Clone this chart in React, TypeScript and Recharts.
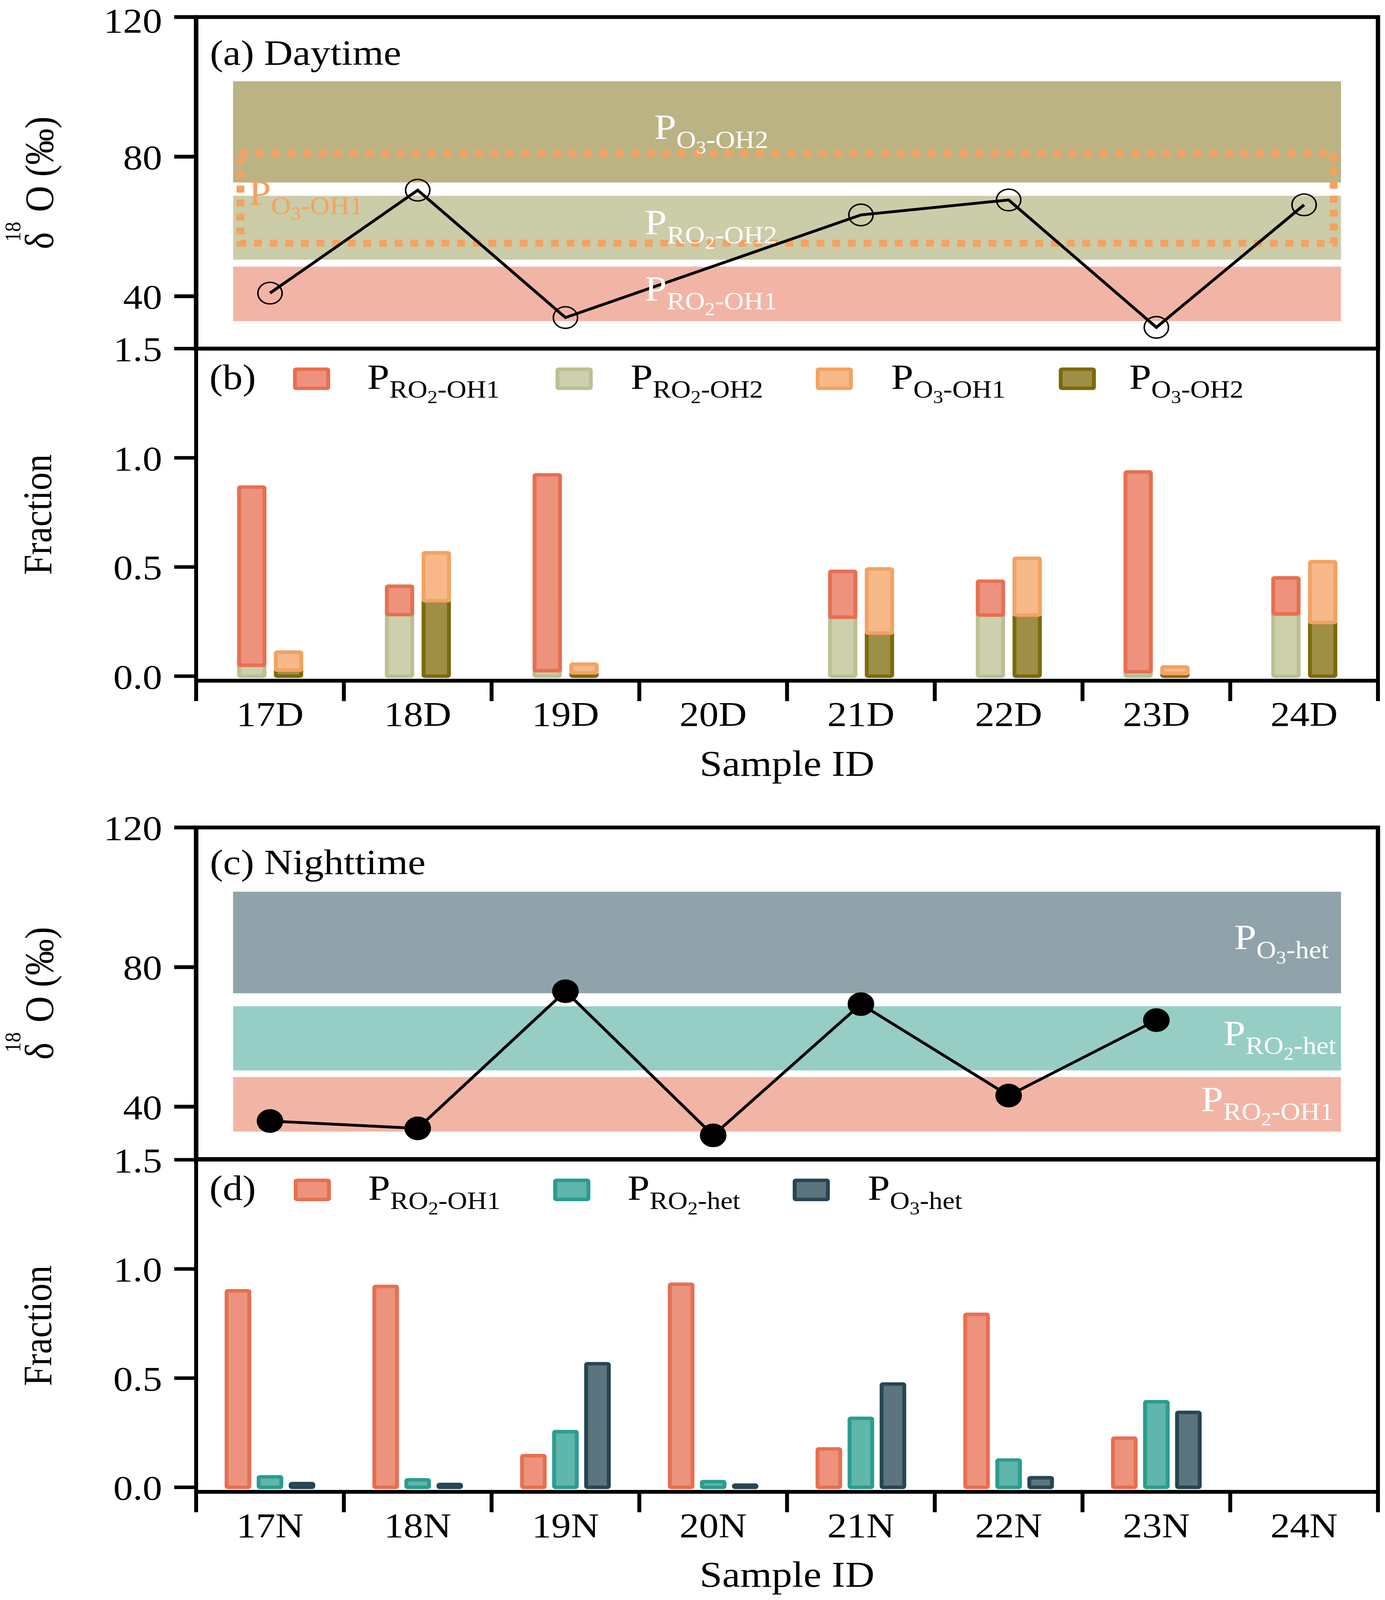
import React from "react";
import {
  ComposedChart,
  Bar,
  Line,
  XAxis,
  YAxis,
  ReferenceArea,
  ReferenceDot,
  Legend,
} from "recharts";

const FONT = '"Liberation Serif", "Times New Roman", Times, serif';
const W = 3545;
const H = 4594;
const PLOT_L = 502;
const PLOT_R = 3527;
const AXIS_W = 200;

// sample ids
const dayIds = ["17D", "18D", "19D", "20D", "21D", "22D", "23D", "24D"];
const nightIds = ["17N", "18N", "19N", "20N", "21N", "22N", "23N", "24N"];

// measured d18O (permil)
const dayDelta = [40.9, 70.4, 33.9, null, 63.3, 67.6, 31.1, 66.2];
const nightDelta = [35.9, 33.8, 73.1, 31.8, 69.4, 43.2, 64.8, null];

// end-member ranges (permil)
const rangeO3OH2 = [72.6, 101.6];
const rangeO3OH1 = [55.2, 81.0];
const rangeRO2OH2 = [50.5, 68.8];
const rangeRO2OH1 = [32.9, 48.5];
const rangeO3het = [72.5, 101.6];
const rangeRO2het = [50.4, 68.8];

// daytime fractions
const dayRO2OH1 = [0.816, 0.13, 0.897, null, 0.21, 0.155, 0.915, 0.165];
const dayRO2OH2 = [0.05, 0.282, 0.025, null, 0.27, 0.28, 0.02, 0.285];
const dayO3OH1 = [0.083, 0.22, 0.04, null, 0.294, 0.26, 0.03, 0.278];
const dayO3OH2 = [0.027, 0.345, 0.015, null, 0.197, 0.28, 0.012, 0.246];

// nighttime fractions
const nightRO2OH1 = [0.9, 0.92, 0.145, 0.93, 0.176, 0.792, 0.225, null];
const nightRO2het = [0.048, 0.034, 0.255, 0.026, 0.316, 0.125, 0.392, null];
const nightO3het = [0.017, 0.013, 0.566, 0.01, 0.473, 0.044, 0.343, null];

const yTicksDelta = [40, 80, 120];
const yTicksFrac = [0, 0.5, 1.0, 1.5];
const bounds = [0, 1, 2, 3, 4, 5, 6, 7, 8];

const COLORS = {
  ro2oh1: "#e76f51",
  ro2oh2: "#bcc092",
  o3oh1: "#f4a261",
  o3oh2: "#7d6a0a",
  ro2het: "#2a9d8f",
  o3het: "#264653",
};

// P with a chemical subscript, "RO_2-OH1" -> P RO(2)-OH1
function PText({ x, y, sub, fill = "#000", anchor = "start", size = 102 }: any) {
  const k = size / 102;
  const parts: string[] = sub.split(/_(\d)/);
  let cur = 0;
  const spans = parts.map((p, i) => {
    if (p === "") return null;
    const digit = i % 2 === 1;
    const target = (digit ? 41 : 25) * k;
    const dy = target - cur;
    cur = target;
    return (
      <tspan key={i} dy={dy} fontSize={(digit ? 52 : 70) * k}>
        {p}
      </tspan>
    );
  });
  return (
    <text x={x} y={y} fill={fill} textAnchor={anchor} fontFamily={FONT} fontSize={size}>
      <tspan>P</tspan>
      {spans}
    </text>
  );
}

const axisStroke = (w: number) => ({ stroke: "#000", strokeWidth: w });
const tickStyle = { fontSize: 100, fill: "#000", fontFamily: FONT };
const NoTick = () => <g />;

const DeltaLabel = (props: any) => {
  const vb = props.viewBox || { y: 0, height: 0 };
  const cy = vb.y + vb.height / 2;
  const bx = 136;
  return (
    <text
      x={bx}
      y={cy}
      transform={`rotate(-90 ${bx} ${cy})`}
      textAnchor="middle"
      fontFamily={FONT}
      fontSize={104}
      fill="#000"
    >
      <tspan>δ</tspan>
      <tspan dx={-28} dy={-84} fontSize={58}>
        18
      </tspan>
      <tspan dx={28} dy={84}>
        O (‰)
      </tspan>
    </text>
  );
};

const FractionLabel = (props: any) => {
  const vb = props.viewBox || { y: 0, height: 0 };
  const cy = vb.y + vb.height / 2;
  const bx = 131;
  return (
    <text
      x={bx}
      y={cy}
      transform={`rotate(-90 ${bx} ${cy})`}
      textAnchor="middle"
      fontFamily={FONT}
      fontSize={104}
      fill="#000"
    >
      Fraction
    </text>
  );
};

const SampleIdLabel = (props: any) => {
  const vb = props.viewBox || { x: 0, y: 0, width: 0 };
  return (
    <text
      x={vb.x + vb.width / 2}
      y={vb.y + 273}
      textAnchor="middle"
      fontFamily={FONT}
      fontSize={104}
      fill="#000"
    >
      Sample ID
    </text>
  );
};

type BandLabel = { x: number; y: number; sub: string; fill: string; anchor: string };

const dayBands = [
  { range: rangeO3OH2, fill: "#bcb384" },
  { range: rangeRO2OH2, fill: "#cbcca8" },
  { range: rangeRO2OH1, fill: "#f2b5a5" },
];
const nightBands = [
  { range: rangeO3het, fill: "#91a3aa" },
  { range: rangeRO2het, fill: "#96cec6" },
  { range: rangeRO2OH1, fill: "#f2b5a5" },
];

// label anchors in data units (x: category units, y: permil)
const dayLabels: BandLabel[] = [
  { x: 3.1, y: 85.0, sub: "O_3-OH2", fill: "#fff", anchor: "start" },
  { x: 3.036, y: 57.7, sub: "RO_2-OH2", fill: "#fff", anchor: "start" },
  { x: 3.036, y: 38.7, sub: "RO_2-OH1", fill: "#fff", anchor: "start" },
  { x: 0.357, y: 66.1, sub: "O_3-OH1", fill: COLORS.o3oh1, anchor: "start" },
];
const nightLabels: BandLabel[] = [
  { x: 7.667, y: 85.1, sub: "O_3-het", fill: "#fff", anchor: "end" },
  { x: 7.717, y: 57.6, sub: "RO_2-het", fill: "#fff", anchor: "end" },
  { x: 7.7, y: 38.7, sub: "RO_2-OH1", fill: "#fff", anchor: "end" },
];

function IsotopePanel({ ids, delta, bands, outline, labels, tag, tagY, filled, top, height, mTop }: any) {
  const data = ids.map((id: string, i: number) => ({ id, pos: i + 0.5, delta: delta[i] }));
  const plotH = 952;
  return (
    <div style={{ position: "absolute", left: 0, top }}>
      <ComposedChart
        width={W}
        height={height}
        data={data}
        margin={{ top: mTop, bottom: height - mTop - plotH, left: PLOT_L - AXIS_W, right: W - PLOT_R }}
      >
        <XAxis type="number" dataKey="pos" domain={[0, 8]} allowDataOverflow hide />
        <YAxis
          type="number"
          domain={[25, 120]}
          ticks={yTicksDelta}
          allowDataOverflow
          width={AXIS_W}
          tickSize={56}
          tickMargin={31}
          axisLine={axisStroke(11)}
          tickLine={axisStroke(11)}
          tick={tickStyle}
          label={{ content: DeltaLabel }}
        />
        {bands.map((b: any, i: number) => (
          <ReferenceArea
            key={`band-${i}`}
            x1={0.25}
            x2={7.75}
            y1={b.range[0]}
            y2={b.range[1]}
            fill={b.fill}
            fillOpacity={1}
            stroke="none"
          />
        ))}
        {outline && (
          <ReferenceArea
            x1={0.3}
            x2={7.7}
            y1={outline[0]}
            y2={outline[1]}
            fill="none"
            stroke={COLORS.o3oh1}
            strokeWidth={20}
            strokeDasharray="20 20"
          />
        )}
        {labels.map((l: BandLabel, i: number) => (
          <ReferenceDot
            key={`lab-${i}`}
            x={l.x}
            y={l.y}
            r={0}
            shape={(p: any) => <PText x={p.cx} y={p.cy} sub={l.sub} fill={l.fill} anchor={l.anchor} />}
          />
        ))}
        <ReferenceDot
          x={0.093}
          y={tagY}
          r={0}
          shape={(p: any) => (
            <text x={p.cx} y={p.cy} fontFamily={FONT} fontSize={102} fill="#000">
              {tag}
            </text>
          )}
        />
        <ReferenceArea x1={0} x2={8} y1={25} y2={120} fill="none" stroke="#000" strokeWidth={11} />
        <Line
          dataKey="delta"
          stroke="#000"
          strokeWidth={8}
          connectNulls
          isAnimationActive={false}
          activeDot={false}
          dot={
            filled
              ? { r: 33, fill: "#000", stroke: "#000", strokeWidth: 2 }
              : { r: 31, fill: "none", stroke: "#000", strokeWidth: 4 }
          }
        />
      </ComposedChart>
    </div>
  );
}

const daySeries = [
  { key: "ro2oh2", values: dayRO2OH2, color: COLORS.ro2oh2, stack: "ro2" },
  { key: "ro2oh1", values: dayRO2OH1, color: COLORS.ro2oh1, stack: "ro2" },
  { key: "o3oh2", values: dayO3OH2, color: COLORS.o3oh2, stack: "o3" },
  { key: "o3oh1", values: dayO3OH1, color: COLORS.o3oh1, stack: "o3" },
];
const dayLegend = [
  { color: COLORS.ro2oh1, sub: "RO_2-OH1" },
  { color: COLORS.ro2oh2, sub: "RO_2-OH2" },
  { color: COLORS.o3oh1, sub: "O_3-OH1" },
  { color: COLORS.o3oh2, sub: "O_3-OH2" },
];
const dayLegendX = [750, 1422, 2088, 2710];
const dayLegendTextX = [940, 1614, 2281, 2890];

const nightSeries = [
  { key: "ro2oh1", values: nightRO2OH1, color: COLORS.ro2oh1 },
  { key: "ro2het", values: nightRO2het, color: COLORS.ro2het },
  { key: "o3het", values: nightO3het, color: COLORS.o3het },
];
const nightLegend = [
  { color: COLORS.ro2oh1, sub: "RO_2-OH1" },
  { color: COLORS.ro2het, sub: "RO_2-het" },
  { color: COLORS.o3het, sub: "O_3-het" },
];
const nightLegendX = [752, 1416, 2029];
const nightLegendTextX = [942, 1606, 2221];

function LegendBox({ tag, items, boxX, textX }: any) {
  return (
    <svg width={W} height={230} style={{ overflow: "visible", display: "block" }}>
      <text x={536} y={176} fontFamily={FONT} fontSize={102} fill="#000">
        {tag}
      </text>
      {items.map((it: any, i: number) => (
        <g key={i}>
          <rect
            x={boxX[i] + 5}
            y={119}
            width={85}
            height={55}
            rx={3}
            fill={it.color}
            fillOpacity={0.75}
            stroke={it.color}
            strokeWidth={10}
          />
          <PText x={textX[i]} y={176} sub={it.sub} />
        </g>
      ))}
    </svg>
  );
}

function FractionPanel({ ids, series, legend, boxX, textX, tag, top, height, barSize, barGap }: any) {
  const data = ids.map((id: string, i: number) => {
    const row: any = { id, pos: i + 0.5 };
    series.forEach((s: any) => {
      row[s.key] = s.values[i];
    });
    return row;
  });
  const mTop = 60;
  const plotH = 953;
  return (
    <div style={{ position: "absolute", left: 0, top }}>
      <ComposedChart
        width={W}
        height={height}
        data={data}
        barGap={barGap}
        margin={{ top: mTop, bottom: height - mTop - plotH - 2, left: PLOT_L - AXIS_W, right: W - PLOT_R }}
      >
        <XAxis
          xAxisId="frame"
          type="number"
          dataKey="pos"
          domain={[0, 8]}
          ticks={bounds}
          interval={0}
          allowDataOverflow
          height={1}
          tick={NoTick}
          tickSize={58}
          axisLine={axisStroke(10)}
          tickLine={axisStroke(10)}
        />
        <XAxis
          xAxisId="cat"
          dataKey="id"
          type="category"
          height={1}
          interval={0}
          axisLine={false}
          tickLine={false}
          tickSize={57}
          tickMargin={2}
          tick={tickStyle}
          label={{ content: SampleIdLabel }}
        />
        <YAxis
          type="number"
          domain={[-0.02, 1.5]}
          ticks={yTicksFrac}
          allowDataOverflow
          width={AXIS_W}
          tickSize={56}
          tickMargin={31}
          tickFormatter={(v: number) => v.toFixed(1)}
          axisLine={axisStroke(10)}
          tickLine={axisStroke(10)}
          tick={tickStyle}
          label={{ content: FractionLabel }}
        />
        <ReferenceArea
          xAxisId="frame"
          x1={0}
          x2={8}
          y1={-0.02}
          y2={1.5}
          fill="none"
          stroke="#000"
          strokeWidth={10}
        />
        {series.map((s: any) => (
          <Bar
            key={s.key}
            xAxisId="cat"
            dataKey={s.key}
            stackId={s.stack}
            barSize={barSize}
            fill={s.color}
            fillOpacity={0.75}
            stroke={s.color}
            strokeWidth={10}
            radius={3}
            isAnimationActive={false}
          />
        ))}
        <Legend
          layout="horizontal"
          verticalAlign="middle"
          align="center"
          wrapperStyle={{ left: 0, top: 0, width: W, height: 230 }}
          content={() => <LegendBox tag={tag} items={legend} boxX={boxX} textX={textX} />}
        />
      </ComposedChart>
    </div>
  );
}

export default function App() {
  // the window may be shorter than the figure; squeeze it vertically to fit
  const viewH = typeof window !== "undefined" && window.innerHeight ? window.innerHeight : H;
  const sy = Math.min(1, viewH / H);
  return (
    <div
      style={{
        position: "absolute",
        left: 0,
        top: 0,
        width: W,
        height: H * sy,
        overflow: "hidden",
        background: "#fff",
      }}
    >
      <div
        style={{
          position: "absolute",
          left: 0,
          top: 0,
          width: W,
          height: H,
          transform: `scale(1, ${sy})`,
          transformOrigin: "0 0",
          fontFamily: FONT,
        }}
      >
        <IsotopePanel
          ids={dayIds}
          delta={dayDelta}
          bands={dayBands}
          outline={rangeO3OH1}
          labels={dayLabels}
          tag="(a) Daytime"
          tagY={106.3}
          filled={false}
          top={0}
          height={1010}
          mTop={49}
        />
        <FractionPanel
          ids={dayIds}
          series={daySeries}
          legend={dayLegend}
          boxX={dayLegendX}
          textX={dayLegendTextX}
          tag="(b)"
          top={941}
          height={1320}
          barSize={65}
          barGap={29}
        />
        <IsotopePanel
          ids={nightIds}
          delta={nightDelta}
          bands={nightBands}
          outline={null}
          labels={nightLabels}
          tag="(c) Nighttime"
          tagY={106.6}
          filled={true}
          top={2300}
          height={1040}
          mTop={76}
        />
        <FractionPanel
          ids={nightIds}
          series={nightSeries}
          legend={nightLegend}
          boxX={nightLegendX}
          textX={nightLegendTextX}
          tag="(d)"
          top={3270}
          height={1324}
          barSize={58}
          barGap={24}
        />
      </div>
    </div>
  );
}
